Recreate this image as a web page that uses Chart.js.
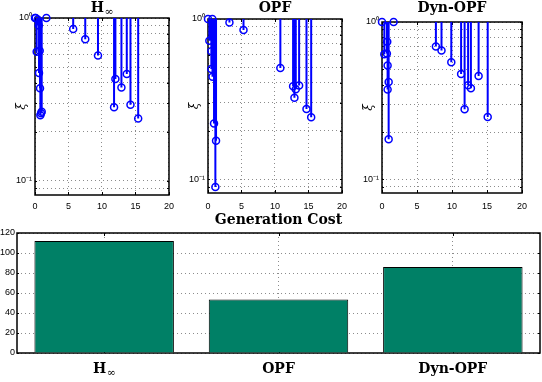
<!DOCTYPE html>
<html>
<head>
<meta charset="utf-8">
<script src="https://cdn.jsdelivr.net/npm/chart.js@4.4.0/dist/chart.umd.min.js"></script>
<style>
  body { margin: 0; background: #fff; width: 542px; height: 382px; position: relative; overflow: hidden; }
  canvas { position: absolute; }
</style>
</head>
<body>
<canvas id="hinf" style="left:0;top:0" width="180" height="212"></canvas>
<canvas id="opf" style="left:175px;top:0" width="180" height="212"></canvas>
<canvas id="dyn" style="left:355px;top:0" width="187" height="212"></canvas>
<canvas id="cost" style="left:0;top:212px" width="542" height="170"></canvas>
<script>
// stem plot data (xi per mode)
const hinfX = [0, 0.1, 0.25, 0.4, 0.55, 0.6, 0.7, 0.75, 0.8, 0.9, 1.0, 1.7, 5.7, 7.5, 9.4, 11.8, 12.0, 12.9, 13.7, 14.25, 15.4];
const hinfY = [1, 1, 0.62, 0.98, 0.9, 0.46, 0.63, 0.37, 0.253, 0.26, 0.266, 1, 0.855, 0.741, 0.589, 0.283, 0.422, 0.374, 0.453, 0.294, 0.242];

const opfX = [0, 0.2, 0.5, 0.5, 0.65, 0.67, 0.9, 1.1, 1.2, 3.2, 5.3, 10.8, 12.7, 12.9, 13.1, 13.6, 14.7, 15.4];
const opfY = [1, 0.732, 0.628, 0.487, 1, 0.436, 0.223, 0.0895, 0.174, 0.95, 0.854, 0.494, 0.38, 0.322, 0.364, 0.385, 0.274, 0.244];

const dynX = [0, 0.33, 0.7, 0.75, 0.8, 0.8, 0.95, 0.95, 1.66, 7.7, 8.5, 9.9, 11.3, 11.8, 12.3, 12.7, 13.8, 15.1];
const dynY = [1, 0.623, 0.63, 0.75, 0.53, 0.372, 0.416, 0.18, 1, 0.70, 0.66, 0.555, 0.467, 0.279, 0.396, 0.38, 0.454, 0.249];

const xTicks = [0, 5, 10, 15, 20];
const yTicks = [0.09, 0.1, 0.2, 0.3, 0.4, 0.5, 0.6, 0.7, 0.8, 0.9, 1];

// generation cost
const costLabels = ['H∞', 'OPF', 'Dyn-OPF'];
const costValues = [112, 53.5, 86];
const costTicks = [0, 20, 40, 60, 80, 100, 120];

const gridColor = 'rgba(0,0,0,0.45)';
const blue = '#0000ff';

function drawText(ctx, text, cx, cy, size){
  ctx.save();
  ctx.fillStyle = '#000';
  ctx.textBaseline = 'middle';
  const big = 'bold ' + size + 'px "DejaVu Serif"';
  if(text === 'H∞'){
    const small = Math.round(size * 0.75) + 'px "DejaVu Serif"';
    ctx.font = big;
    const wH = ctx.measureText('H').width;
    ctx.font = small;
    const wI = ctx.measureText('∞').width;
    const x = cx - (wH + wI) / 2;
    ctx.textAlign = 'left';
    ctx.font = big;
    ctx.fillText('H', x, cy);
    ctx.font = small;
    ctx.fillText('∞', x + wH + 0.5, cy + size * 0.3);
  } else {
    ctx.textAlign = 'center';
    ctx.font = big;
    ctx.fillText(text, cx, cy);
  }
  ctx.restore();
}

// black frame round the plot area + small inside ticks
const boxPlugin = {
  id: 'box',
  beforeDatasetsDraw(chart){
    const {ctx, chartArea: a, scales} = chart;
    ctx.save();
    ctx.strokeStyle = '#000';
    ctx.lineWidth = 1;
    ctx.beginPath();
    scales.x.ticks.forEach((t, i) => {
      const px = Math.round(scales.x.getPixelForTick(i)) + 0.5;
      ctx.moveTo(px, a.bottom); ctx.lineTo(px, a.bottom - 3);
      ctx.moveTo(px, a.top); ctx.lineTo(px, a.top + 3);
    });
    scales.y.ticks.forEach((t, i) => {
      const py = Math.round(scales.y.getPixelForTick(i)) + 0.5;
      ctx.moveTo(a.left, py); ctx.lineTo(a.left + 2, py);
      ctx.moveTo(a.right, py); ctx.lineTo(a.right - 2, py);
    });
    ctx.stroke();
    ctx.lineWidth = 1.5;
    ctx.strokeRect(a.left, a.top, a.right - a.left, a.bottom - a.top);
    ctx.restore();
  }
};

const labelPlugin = {
  id: 'labels',
  afterDraw(chart, args, opts){
    const a = chart.chartArea;
    if(opts.title) drawText(chart.ctx, opts.title, (a.left + a.right) / 2, opts.titleY, 14);
    if(opts.categories){
      const xs = chart.scales.x;
      opts.categories.forEach((c, i) => drawText(chart.ctx, c, xs.getPixelForValue(i), opts.catY, 14));
    }
  }
};

function stemChart(id, title, xs, ys, yWidth, top, bottom, rightPad){
  const el = document.getElementById(id);
  const markers = xs.map((x, i) => ({x, y: ys[i]}));
  const stems = xs.flatMap((x, i) => [{x, y: 1}, {x, y: ys[i]}, {x, y: null}]);
  return new Chart(el, {
    type: 'scatter',
    data: {
      datasets: [
        {data: stems, showLine: true, spanGaps: false, borderColor: blue, borderWidth: 2, pointRadius: 0},
        {data: markers, pointRadius: 3.5, pointStyle: 'circle', borderColor: blue, borderWidth: 1.5,
         backgroundColor: 'rgba(0,0,0,0)', clip: false}
      ]
    },
    options: {
      responsive: false,
      animation: false,
      layout: {padding: {top: top, right: rightPad, left: 0, bottom: 0}},
      plugins: {legend: {display: false}, tooltip: {enabled: false},
                labels: {title: title, titleY: 8}},
      scales: {
        x: {
          type: 'linear', min: 0, max: 20,
          afterBuildTicks: s => { s.ticks = xTicks.map(v => ({value: v})); },
          grid: {color: gridColor, drawTicks: false},
          border: {display: false, dash: [1, 3]},
          ticks: {color: '#000', font: {size: 9}, padding: 201 - bottom, maxRotation: 0},
          afterFit: s => { s.height = 212 - bottom; }
        },
        y: {
          type: 'logarithmic', min: 0.082, max: 1,
          afterBuildTicks: s => { s.ticks = yTicks.map(v => ({value: v})); },
          grid: {color: gridColor, drawTicks: false},
          border: {display: false, dash: [1, 3]},
          ticks: {
            color: '#000', font: {size: 9}, padding: 3, autoSkip: false,
            callback: v => v === 1 ? '10⁰' : (v === 0.1 ? '10⁻¹' : '')
          },
          title: {display: true, text: 'ξ', color: '#000',
                  font: {family: 'DejaVu Serif', style: 'italic', size: 12},
                  padding: {top: yWidth - 13 - 7.2, bottom: 0}},
          afterFit: s => { s.width = yWidth; }
        }
      }
    },
    plugins: [boxPlugin, labelPlugin]
  });
}

Chart.defaults.font.family = '"Liberation Sans", Arial, sans-serif';

stemChart('hinf', 'H∞', hinfX, hinfY, 35, 18, 195, 7);
stemChart('opf', 'OPF', opfX, opfY, 33, 19, 193, 6);
stemChart('dyn', 'Dyn-OPF', dynX, dynY, 27, 22, 193, 20);

new Chart(document.getElementById('cost'), {
  type: 'bar',
  data: {
    labels: costLabels,
    datasets: [{
      data: costValues,
      backgroundColor: '#008066',
      borderColor: '#000',
      borderWidth: 1,
      barPercentage: 0.8,
      categoryPercentage: 1
    }]
  },
  options: {
    responsive: false,
    animation: false,
    layout: {padding: {top: 21, right: 2, left: 0, bottom: 0}},
    plugins: {legend: {display: false}, tooltip: {enabled: false},
              labels: {title: 'Generation Cost', titleY: 8, categories: costLabels, catY: 157}},
    scales: {
      x: {
        grid: {offset: false, color: gridColor, drawTicks: false},
        border: {display: false, dash: [1, 3]},
        ticks: {display: false},
        afterFit: s => { s.height = 29; }
      },
      y: {
        min: 0, max: 120,
        afterBuildTicks: s => { s.ticks = costTicks.map(v => ({value: v})); },
        grid: {color: gridColor, drawTicks: false},
        border: {display: false, dash: [1, 3]},
        ticks: {color: '#000', font: {size: 9}, padding: 2},
        afterFit: s => { s.width = 17; }
      }
    }
  },
  plugins: [boxPlugin, labelPlugin]
});
</script>
</body>
</html>
